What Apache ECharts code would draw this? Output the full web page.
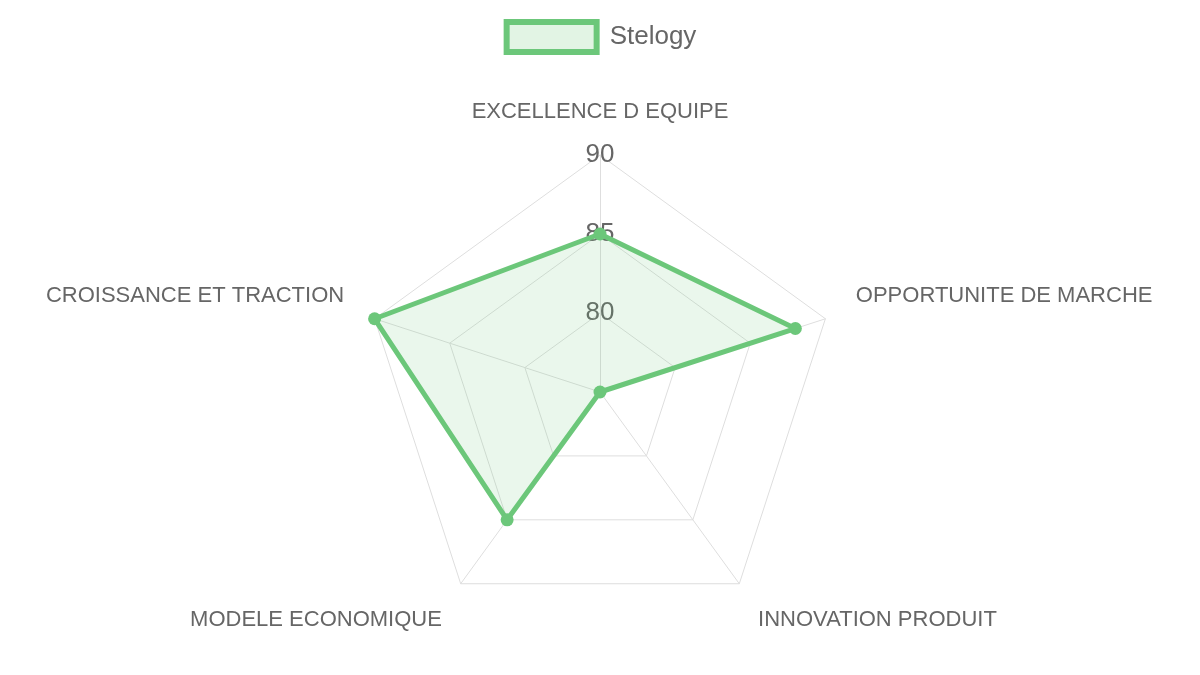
<!DOCTYPE html>
<html>
<head>
<meta charset="utf-8">
<script src="https://cdn.jsdelivr.net/npm/echarts@6/dist/echarts.min.js"></script>
<style>
  html, body { margin: 0; padding: 0; background: #fff; }
  #chart { width: 1200px; height: 675px; }
</style>
</head>
<body>
<div id="chart"></div>
<script>
// axes listed counterclockwise from the top (echarts radar order)
const indicators = ['EXCELLENCE D EQUIPE', 'CROISSANCE ET TRACTION', 'MODELE ECONOMIQUE', 'INNOVATION PRODUIT', 'OPPORTUNITE DE MARCHE']
const stelogyValues = [85, 90, 85, 75, 88]
const scaleMin = 75
const scaleMax = 90
const seriesName = 'Stelogy'

const green = '#6cc77a'
const chart = echarts.init(document.getElementById('chart'))

// nudge the side labels up and the bottom labels down, like chart.js does
const nameStyle = ['top', 'side', 'bottom', 'bottom', 'side']

chart.setOption({
  animation: false,
  textStyle: { fontFamily: 'Liberation Sans, Arial, sans-serif' },
  legend: {
    top: 14,
    left: 'center',
    data: [seriesName],
    icon: 'rect',
    itemWidth: 90,
    itemHeight: 30,
    itemStyle: { color: 'rgba(108,199,122,0.2)', borderColor: green, borderWidth: 6 },
    textStyle: { fontSize: 26, color: '#666', padding: [0, 0, 0, 8] }
  },
  radar: {
    center: [600, 392],
    radius: 237,
    splitNumber: 3,
    shape: 'polygon',
    nameGap: 32,
    axisName: {
      color: '#666',
      fontSize: 22,
      formatter: (name, ind) => '{' + nameStyle[indicators.indexOf(name)] + '|' + name + '}',
      rich: {
        top: { fontSize: 22, color: '#666' },
        side: { fontSize: 22, color: '#666', padding: [0, 0, 26, 0] },
        bottom: { fontSize: 22, color: '#666', padding: [20, 0, 0, 0] }
      }
    },
    axisLine: { lineStyle: { color: '#dedede', width: 1 } },
    splitLine: { lineStyle: { color: '#dedede', width: 1 } },
    splitArea: { show: false },
    axisTick: { show: false },
    axisLabel: {
      show: false,
      margin: 0,
      align: 'center',
      verticalAlign: 'middle',
      color: '#666',
      fontSize: 26,
      showMinLabel: false,
      formatter: v => (v === scaleMin ? '' : v)
    },
    indicator: indicators.map((name, i) => ({
      name: name,
      min: scaleMin,
      max: scaleMax,
      axisLabel: { show: i === 0 }
    }))
  },
  series: [{
    name: seriesName,
    type: 'radar',
    symbol: 'circle',
    symbolSize: 13,
    itemStyle: { color: green },
    lineStyle: { color: green, width: 5 },
    areaStyle: { color: 'rgba(108,199,122,0.2)' },
    data: [{ value: stelogyValues, name: seriesName }]
  }]
})
</script>
</body>
</html>
